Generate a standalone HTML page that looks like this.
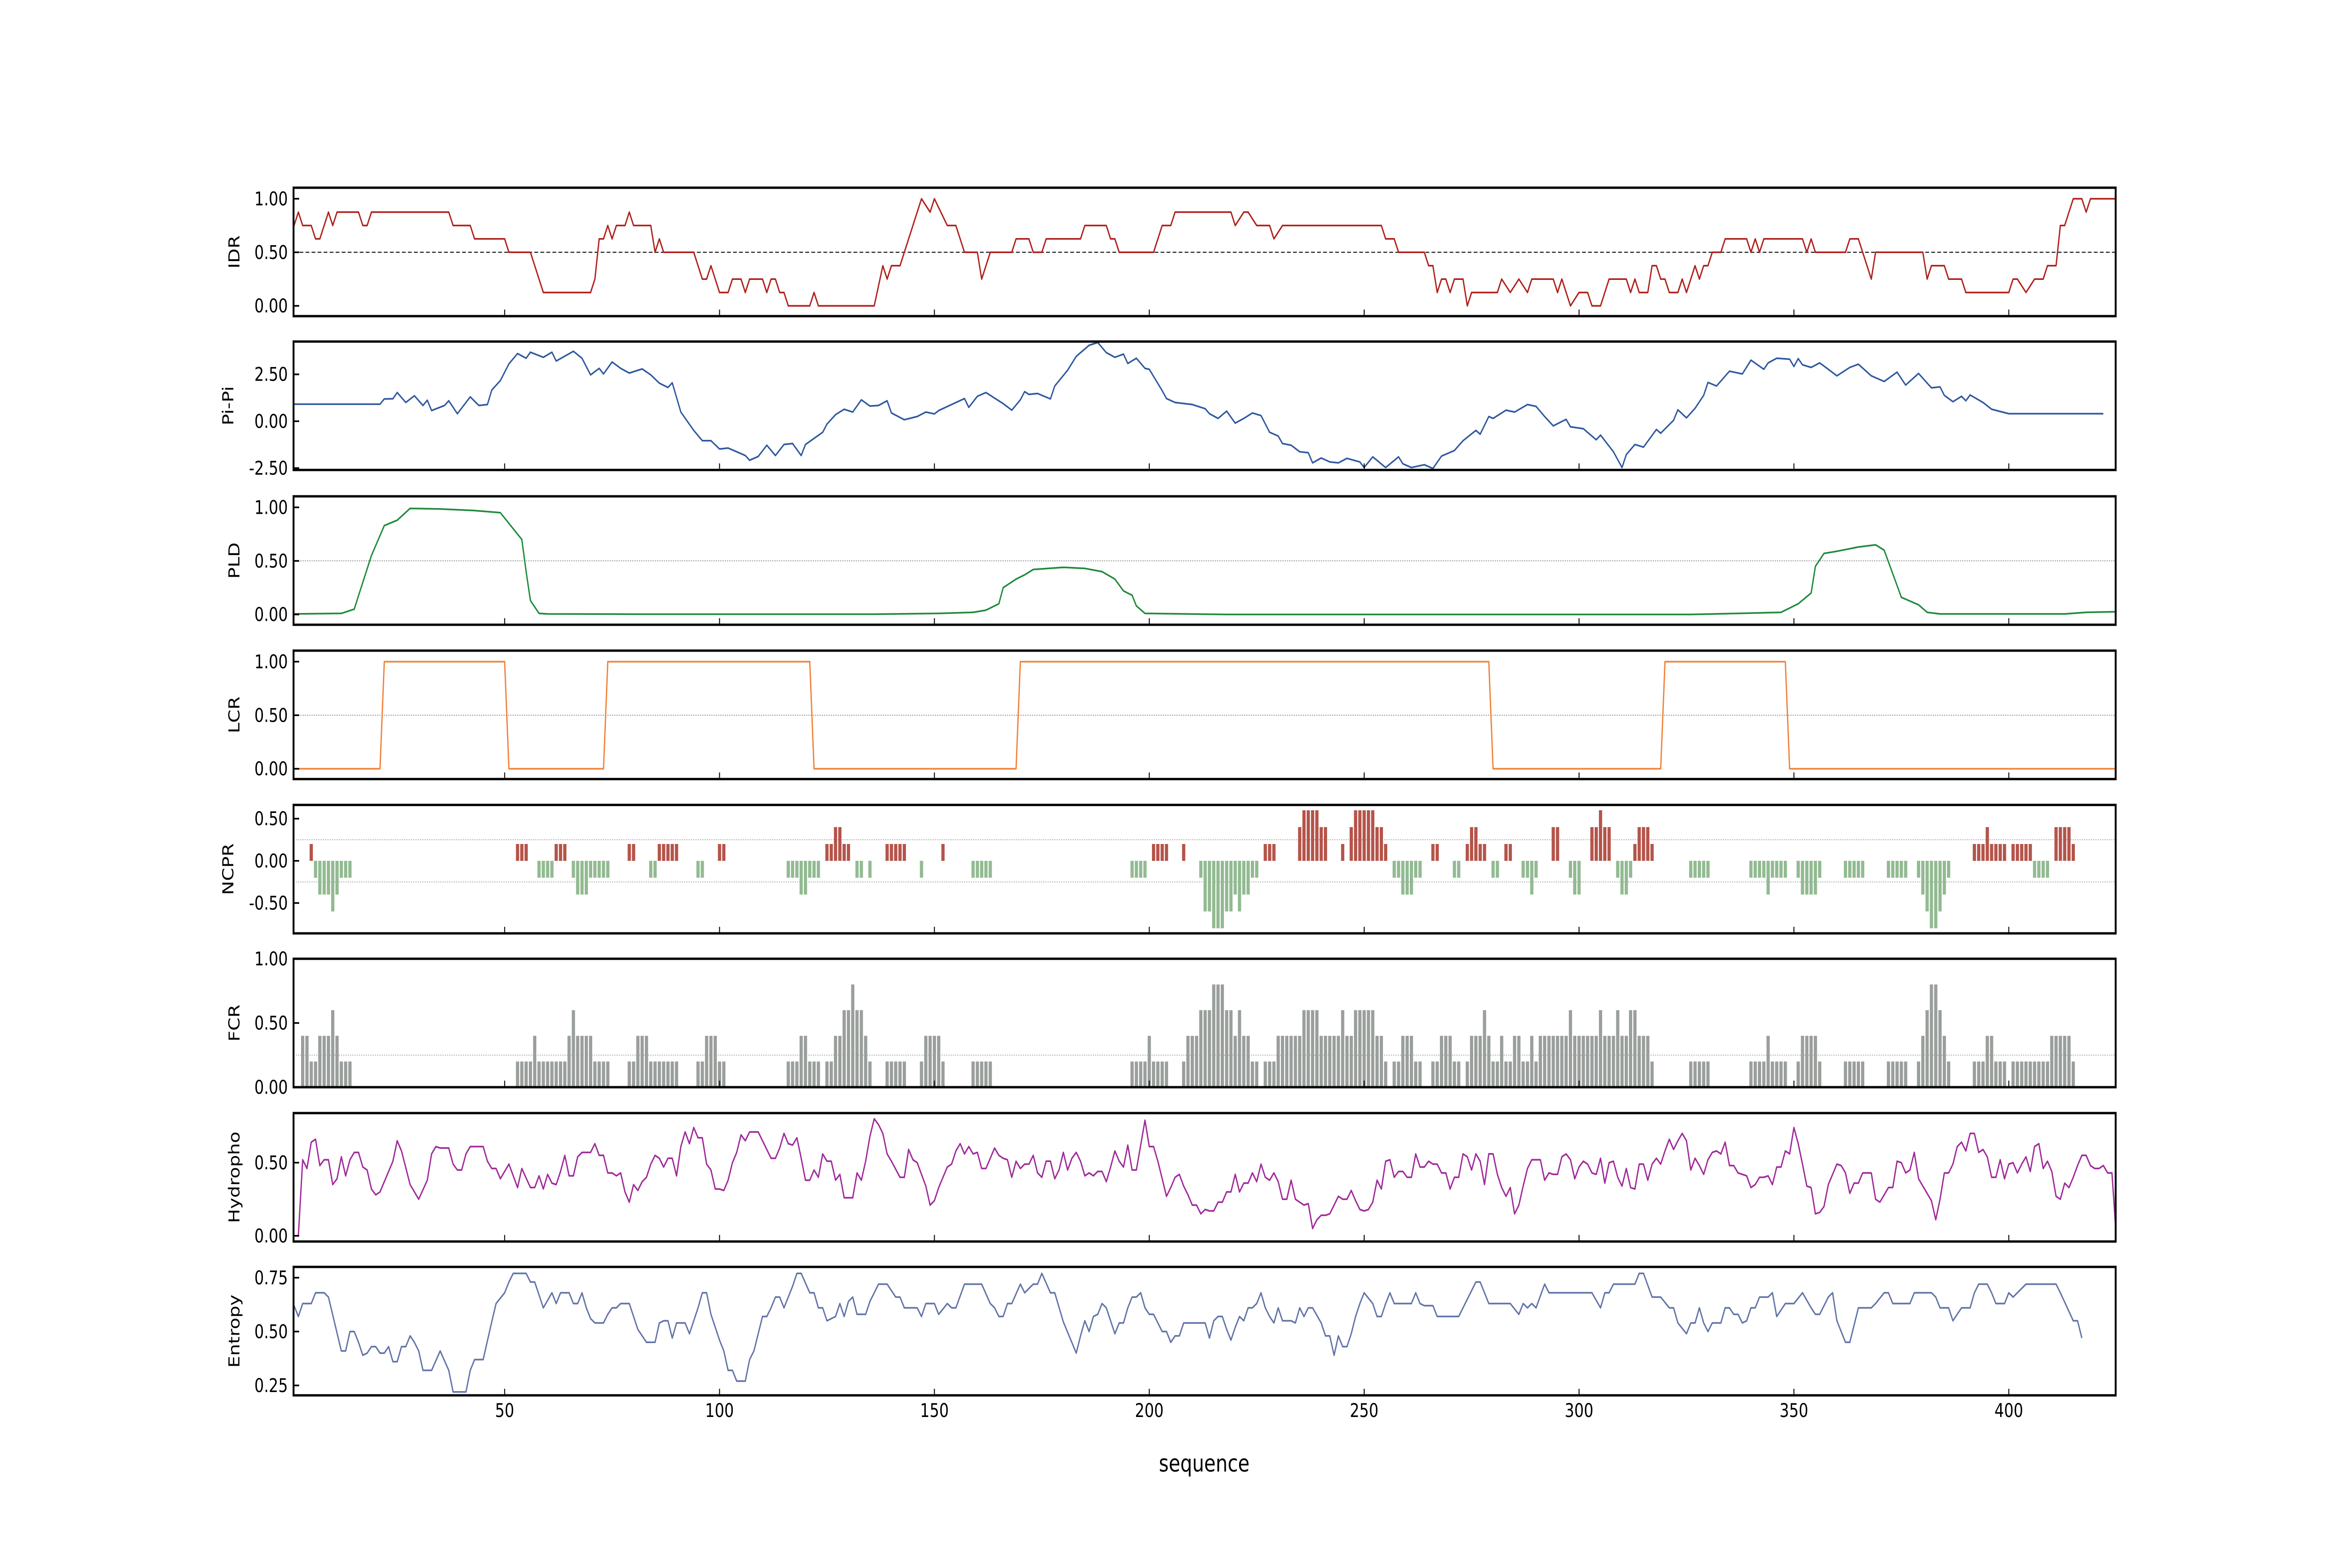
<!DOCTYPE html>
<html><head><meta charset="utf-8"><style>
html,body{margin:0;padding:0;background:#fff;width:100%;height:100%;overflow:hidden}
svg{display:block;width:100vw;height:100vh}
text{font-family:"DejaVu Sans","Liberation Sans",sans-serif;fill:#000}
</style></head><body>
<svg id="fig" xmlns="http://www.w3.org/2000/svg" viewBox="0 0 6250 3333" preserveAspectRatio="none">
<rect x="0" y="0" width="6250" height="3333" fill="#fff"/>
<text x="3200" y="3128" font-size="50" text-anchor="middle">sequence</text>
</svg>
<script>
// ---- data (residue, value) ----
const xTicks = [50,100,150,200,250,300,350,400];
const idrPts = [[1,.75],[2,.875],[3,.75],[5,.75],[6,.625],[7,.625],[9,.875],[10,.75],[11,.875],[16,.875],[17,.75],[18,.75],[19,.875],[37,.875],[38,.75],[42,.75],[43,.625],[50,.625],[51,.5],[56,.5],[59,.125],[70,.125],[71,.25],[72,.625],[73,.625],[74,.75],[75,.625],[76,.75],[78,.75],[79,.875],[80,.75],[84,.75],[85,.5],[86,.625],[87,.5],[94,.5],[96,.25],[97,.25],[98,.375],[100,.125],[102,.125],[103,.25],[105,.25],[106,.125],[107,.25],[110,.25],[111,.125],[112,.25],[113,.25],[114,.125],[115,.125],[116,0],[121,0],[122,.125],[123,0],[136,0],[138,.375],[139,.25],[140,.375],[142,.375],[147,1],[149,.875],[150,1],[153,.75],[155,.75],[157,.5],[160,.5],[161,.25],[163,.5],[168,.5],[169,.625],[172,.625],[173,.5],[175,.5],[176,.625],[184,.625],[185,.75],[190,.75],[191,.625],[192,.625],[193,.5],[201,.5],[203,.75],[205,.75],[206,.875],[219,.875],[220,.75],[222,.875],[223,.875],[225,.75],[228,.75],[229,.625],[231,.75],[254,.75],[255,.625],[257,.625],[258,.5],[264,.5],[265,.375],[266,.375],[267,.125],[268,.25],[269,.25],[270,.125],[271,.25],[273,.25],[274,0],[275,.125],[281,.125],[282,.25],[284,.125],[286,.25],[288,.125],[289,.25],[294,.25],[295,.125],[296,.25],[298,0],[300,.125],[302,.125],[303,0],[305,0],[307,.25],[311,.25],[312,.125],[313,.25],[314,.125],[316,.125],[317,.375],[318,.375],[319,.25],[320,.25],[321,.125],[323,.125],[324,.25],[325,.125],[327,.375],[328,.25],[329,.375],[330,.375],[331,.5],[333,.5],[334,.625],[339,.625],[340,.5],[341,.625],[342,.5],[343,.625],[352,.625],[353,.5],[354,.625],[355,.5],[362,.5],[363,.625],[365,.625],[368,.25],[369,.5],[380,.5],[381,.25],[382,.375],[385,.375],[386,.25],[389,.25],[390,.125],[400,.125],[401,.25],[402,.25],[404,.125],[406,.25],[408,.25],[409,.375],[411,.375],[412,.75],[413,.75],[415,1],[417,1],[418,.875],[419,1],[425,1]];
const piPts = [[1,.91],[21,.91],[22,1.19],[24,1.2],[25,1.53],[27,1.0],[29,1.36],[31,.84],[32,1.12],[33,.57],[36,.84],[37,1.09],[39,.40],[42,1.30],[44,.84],[46,.89],[47,1.66],[49,2.17],[51,3.06],[53,3.61],[55,3.36],[56,3.68],[59,3.41],[61,3.68],[62,3.21],[66,3.73],[68,3.36],[70,2.47],[72,2.82],[73,2.52],[75,3.16],[77,2.82],[79,2.57],[82,2.79],[84,2.47],[86,2.03],[88,1.80],[89,2.05],[91,.49],[94,-.49],[96,-1.04],[98,-1.04],[100,-1.48],[102,-1.43],[106,-1.83],[107,-2.08],[109,-1.88],[111,-1.28],[113,-1.83],[115,-1.24],[117,-1.19],[119,-1.83],[120,-1.24],[124,-.59],[125,-.15],[127,.35],[129,.64],[131,.49],[133,1.14],[135,.81],[137,.84],[139,1.09],[140,.44],[143,.08],[146,.25],[148,.49],[150,.39],[151,.57],[154,.89],[157,1.21],[158,.74],[160,1.33],[162,1.53],[166,.94],[168,.59],[170,1.14],[171,1.58],[172,1.43],[174,1.48],[177,1.19],[178,1.88],[181,2.72],[183,3.46],[186,4.05],[188,4.2],[190,3.66],[192,3.41],[194,3.58],[195,3.08],[197,3.36],[199,2.82],[200,2.77],[203,1.63],[204,1.21],[206,1.0],[210,.89],[213,.67],[214,.40],[216,.15],[218,.54],[220,-.10],[222,.15],[224,.44],[226,.30],[228,-.59],[230,-.79],[231,-1.19],[233,-1.28],[235,-1.63],[237,-1.68],[238,-2.22],[240,-1.96],[242,-2.17],[244,-2.22],[246,-1.98],[249,-2.17],[250,-2.47],[252,-1.90],[255,-2.47],[258,-1.90],[259,-2.27],[261,-2.47],[264,-2.32],[266,-2.52],[268,-1.86],[271,-1.56],[273,-1.04],[276,-.49],[277,-.69],[279,.25],[280,.15],[283,.59],[285,.49],[288,.89],[290,.79],[292,.25],[294,-.25],[297,.10],[298,-.30],[301,-.40],[304,-.99],[305,-.74],[308,-1.63],[310,-2.47],[311,-1.78],[313,-1.24],[315,-1.38],[318,-.44],[319,-.64],[322,.05],[323,.61],[325,.18],[327,.69],[329,1.38],[330,2.07],[332,1.88],[335,2.67],[338,2.52],[340,3.26],[343,2.77],[344,3.11],[346,3.36],[349,3.31],[350,2.92],[351,3.34],[352,3.01],[354,2.87],[356,3.11],[358,2.77],[360,2.42],[363,2.87],[365,3.04],[368,2.42],[371,2.12],[374,2.62],[376,1.93],[379,2.55],[382,1.78],[384,1.83],[385,1.38],[387,1.04],[389,1.33],[390,1.09],[391,1.40],[394,1.0],[396,.64],[400,.40],[422,.40]];
const pldPts = [[1,.005],[12,.01],[15,.05],[17,.3],[19,.55],[22,.83],[25,.88],[28,.99],[35,.985],[43,.97],[49,.95],[52,.8],[54,.7],[55,.4],[56,.13],[58,.01],[60,.005],[82,.003],[109,.003],[136,.003],[151,.01],[159,.02],[162,.04],[165,.1],[166,.25],[169,.33],[171,.37],[173,.42],[180,.44],[185,.43],[189,.4],[192,.33],[194,.22],[196,.18],[197,.08],[199,.01],[218,0],[272,0],[326,0],[337,.01],[347,.02],[351,.1],[354,.2],[355,.45],[357,.57],[360,.59],[365,.63],[369,.65],[371,.6],[373,.38],[375,.16],[379,.09],[381,.02],[384,.005],[413,.005],[418,.02],[425,.025]];
const lcrPts = [[1,0],[21,0],[22,1],[50,1],[51,0],[73,0],[74,1],[121,1],[122,0],[169,0],[170,1],[279,1],[280,0],[319,0],[320,1],[348,1],[349,0],[425,0]];
const ncprRuns = [[5,5,.2],[6,6,-.2],[7,9,-.4],[10,10,-.6],[11,11,-.4],[12,14,-.2],[53,55,.2],[58,61,-.2],[62,64,.2],[66,66,-.2],[67,69,-.4],[70,74,-.2],[79,80,.2],[84,85,-.2],[86,90,.2],[95,96,-.2],[100,101,.2],[116,118,-.2],[119,120,-.4],[121,123,-.2],[125,126,.2],[127,128,.4],[129,130,.2],[132,133,-.2],[135,135,-.2],[139,143,.2],[147,147,-.2],[152,152,.2],[159,163,-.2],[196,199,-.2],[201,204,.2],[208,208,.2],[212,212,-.2],[213,214,-.6],[215,217,-.8],[218,219,-.6],[220,220,-.4],[221,221,-.6],[222,223,-.4],[224,225,-.2],[227,229,.2],[235,235,.4],[236,239,.6],[240,241,.4],[245,245,.2],[247,247,.4],[248,252,.6],[253,254,.4],[255,255,.2],[257,258,-.2],[259,261,-.4],[262,263,-.2],[266,267,.2],[271,272,-.2],[274,274,.2],[275,276,.4],[277,278,.2],[280,281,-.2],[283,284,.2],[287,288,-.2],[289,289,-.4],[290,290,-.2],[294,295,.4],[298,298,-.2],[299,300,-.4],[303,304,.4],[305,305,.6],[306,307,.4],[309,309,-.2],[310,311,-.4],[312,312,-.2],[313,313,.2],[314,316,.4],[317,317,.2],[326,330,-.2],[340,343,-.2],[344,344,-.4],[345,348,-.2],[351,351,-.2],[352,355,-.4],[356,356,-.2],[362,366,-.2],[372,376,-.2],[379,379,-.2],[380,380,-.4],[381,381,-.6],[382,383,-.8],[384,384,-.6],[385,385,-.4],[386,386,-.2],[392,394,.2],[395,395,.4],[396,399,.2],[401,405,.2],[406,409,-.2],[411,414,.4],[415,415,.2]];
const fcrRuns = [[3,4,.4],[5,6,.2],[7,9,.4],[10,10,.6],[11,11,.4],[12,14,.2],[53,56,.2],[57,57,.4],[58,64,.2],[65,65,.4],[66,66,.6],[67,70,.4],[71,74,.2],[79,80,.2],[81,83,.4],[84,90,.2],[95,96,.2],[97,99,.4],[100,101,.2],[116,118,.2],[119,120,.4],[121,123,.2],[125,126,.2],[127,128,.4],[129,130,.6],[131,131,.8],[132,133,.6],[134,134,.4],[135,135,.2],[139,143,.2],[147,147,.2],[148,151,.4],[152,152,.2],[159,163,.2],[196,199,.2],[200,200,.4],[201,204,.2],[208,208,.2],[209,211,.4],[212,214,.6],[215,217,.8],[218,219,.6],[220,220,.4],[221,221,.6],[222,223,.4],[224,225,.2],[227,229,.2],[230,235,.4],[236,239,.6],[240,244,.4],[245,245,.6],[246,247,.4],[248,252,.6],[253,254,.4],[255,255,.2],[257,258,.2],[259,261,.4],[262,263,.2],[266,267,.2],[268,270,.4],[271,272,.2],[274,274,.2],[275,277,.4],[278,278,.6],[279,279,.4],[280,281,.2],[282,282,.4],[283,284,.2],[285,286,.4],[287,288,.2],[289,289,.4],[290,290,.2],[291,297,.4],[298,298,.6],[299,304,.4],[305,305,.6],[306,308,.4],[309,309,.6],[310,311,.4],[312,313,.6],[314,316,.4],[317,317,.2],[326,330,.2],[340,343,.2],[344,344,.4],[345,348,.2],[351,351,.2],[352,355,.4],[356,356,.2],[362,366,.2],[372,376,.2],[379,379,.2],[380,380,.4],[381,381,.6],[382,383,.8],[384,384,.6],[385,385,.4],[386,386,.2],[392,394,.2],[395,396,.4],[397,399,.2],[401,409,.2],[410,414,.4],[415,415,.2]];
const hydroPts = [[1,0],[2,0],[3,.52],[4,.46],[5,.64],[6,.66],[7,.48],[8,.52],[9,.52],[10,.35],[11,.39],[12,.54],[13,.41],[14,.52],[15,.57],[16,.57],[17,.47],[18,.45],[19,.32],[20,.28],[21,.30],[24,.51],[25,.65],[26,.58],[28,.35],[30,.25],[32,.38],[33,.56],[34,.61],[35,.60],[37,.60],[38,.49],[39,.45],[40,.45],[41,.56],[42,.61],[45,.61],[46,.51],[47,.46],[48,.46],[49,.39],[51,.49],[53,.33],[54,.46],[56,.33],[57,.33],[58,.41],[59,.32],[60,.42],[61,.36],[62,.35],[63,.44],[64,.55],[65,.41],[66,.41],[67,.54],[68,.57],[70,.57],[71,.63],[72,.55],[73,.55],[74,.43],[75,.43],[76,.41],[77,.43],[78,.30],[79,.23],[80,.35],[81,.31],[82,.37],[83,.40],[84,.49],[85,.55],[86,.53],[87,.47],[88,.53],[89,.53],[90,.41],[91,.61],[92,.71],[93,.63],[94,.74],[95,.67],[96,.67],[97,.49],[98,.45],[99,.32],[100,.32],[101,.31],[102,.38],[103,.50],[104,.57],[105,.69],[106,.65],[107,.71],[109,.71],[110,.65],[111,.59],[112,.53],[113,.53],[114,.60],[115,.70],[116,.63],[117,.62],[118,.67],[119,.53],[120,.38],[121,.38],[122,.45],[123,.40],[124,.56],[125,.51],[126,.51],[127,.38],[128,.42],[129,.26],[131,.26],[132,.43],[133,.38],[134,.51],[135,.68],[136,.80],[137,.76],[138,.70],[139,.56],[140,.51],[142,.40],[143,.40],[144,.59],[145,.52],[146,.50],[147,.42],[148,.34],[149,.21],[150,.24],[151,.33],[152,.40],[153,.47],[154,.49],[155,.58],[156,.63],[157,.56],[158,.61],[159,.56],[160,.57],[161,.46],[162,.46],[163,.53],[164,.60],[165,.55],[166,.53],[167,.52],[168,.40],[169,.51],[170,.46],[171,.49],[172,.49],[173,.55],[174,.43],[175,.40],[176,.51],[177,.51],[178,.39],[179,.45],[180,.57],[181,.45],[182,.53],[183,.57],[184,.51],[185,.41],[186,.43],[187,.41],[188,.44],[189,.44],[190,.37],[191,.47],[192,.58],[193,.51],[194,.47],[195,.62],[196,.45],[197,.45],[198,.62],[199,.79],[200,.61],[201,.61],[202,.51],[203,.39],[204,.27],[205,.33],[206,.40],[207,.42],[208,.34],[209,.28],[210,.21],[211,.21],[212,.15],[213,.18],[214,.17],[215,.17],[216,.23],[217,.23],[218,.30],[219,.30],[220,.42],[221,.30],[222,.36],[223,.36],[224,.43],[225,.37],[226,.49],[227,.40],[228,.38],[229,.43],[230,.37],[231,.25],[232,.25],[233,.38],[234,.25],[235,.23],[236,.21],[237,.22],[238,.05],[239,.11],[240,.14],[241,.14],[242,.15],[243,.21],[244,.27],[245,.25],[246,.25],[247,.31],[248,.24],[249,.18],[250,.17],[251,.18],[252,.23],[253,.38],[254,.32],[255,.51],[256,.52],[257,.40],[258,.44],[259,.44],[260,.40],[261,.40],[262,.56],[263,.47],[264,.47],[265,.51],[266,.49],[267,.49],[268,.43],[269,.43],[270,.32],[271,.40],[272,.40],[273,.56],[274,.54],[275,.45],[276,.56],[277,.51],[278,.35],[279,.56],[280,.56],[281,.42],[282,.33],[283,.27],[284,.33],[285,.15],[286,.21],[287,.34],[288,.46],[289,.52],[290,.52],[291,.52],[292,.38],[293,.43],[294,.42],[295,.42],[296,.54],[297,.56],[298,.52],[299,.39],[300,.47],[301,.51],[302,.49],[303,.43],[304,.42],[305,.53],[306,.36],[307,.50],[308,.51],[309,.40],[310,.34],[311,.46],[312,.33],[313,.32],[314,.49],[315,.49],[316,.38],[317,.49],[318,.53],[319,.49],[320,.58],[321,.66],[322,.59],[323,.65],[324,.70],[325,.65],[326,.45],[327,.53],[328,.48],[329,.42],[330,.52],[331,.57],[332,.58],[333,.56],[334,.64],[335,.48],[336,.48],[337,.43],[338,.42],[339,.41],[340,.33],[341,.35],[342,.40],[343,.40],[344,.41],[345,.35],[346,.47],[347,.47],[348,.58],[349,.56],[350,.74],[351,.63],[352,.49],[353,.34],[354,.33],[355,.15],[356,.16],[357,.20],[358,.35],[359,.42],[360,.49],[361,.48],[362,.43],[363,.29],[364,.36],[365,.36],[366,.43],[367,.43],[368,.43],[369,.25],[370,.23],[371,.28],[372,.33],[373,.33],[374,.51],[375,.50],[376,.43],[377,.45],[378,.57],[379,.39],[380,.34],[381,.29],[382,.24],[383,.11],[384,.25],[385,.43],[386,.43],[387,.49],[388,.61],[389,.64],[390,.58],[391,.70],[392,.70],[393,.57],[394,.59],[395,.54],[396,.40],[397,.40],[398,.52],[399,.39],[400,.49],[401,.50],[402,.43],[403,.49],[404,.54],[405,.44],[406,.61],[407,.63],[408,.46],[409,.51],[410,.44],[411,.27],[412,.25],[413,.36],[414,.33],[415,.40],[416,.48],[417,.55],[418,.55],[419,.48],[420,.46],[421,.46],[422,.48],[423,.43],[424,.43],[425,0]];
const entropyPts = [[1,.62],[2,.57],[3,.63],[5,.63],[6,.68],[8,.68],[9,.66],[12,.41],[13,.41],[14,.50],[15,.50],[16,.45],[17,.39],[18,.40],[19,.43],[20,.43],[21,.40],[22,.40],[23,.43],[24,.36],[25,.36],[26,.43],[27,.43],[28,.48],[29,.45],[30,.41],[31,.32],[33,.32],[35,.41],[37,.32],[38,.22],[41,.22],[42,.32],[43,.37],[45,.37],[47,.545],[48,.63],[50,.68],[51,.73],[52,.77],[55,.77],[56,.73],[57,.73],[58,.67],[59,.61],[61,.68],[62,.63],[63,.68],[65,.68],[66,.63],[67,.63],[68,.68],[69,.61],[70,.56],[71,.54],[73,.54],[74,.58],[75,.61],[76,.61],[77,.63],[79,.63],[81,.51],[83,.45],[85,.45],[86,.54],[87,.55],[88,.55],[89,.47],[90,.54],[92,.54],[93,.49],[95,.61],[96,.68],[97,.68],[98,.58],[100,.46],[101,.41],[102,.32],[103,.32],[104,.27],[106,.27],[107,.37],[108,.41],[110,.57],[111,.57],[112,.61],[113,.66],[114,.66],[115,.61],[117,.71],[118,.77],[119,.77],[121,.68],[122,.68],[123,.61],[124,.61],[125,.55],[127,.57],[128,.63],[129,.57],[130,.64],[131,.66],[132,.58],[134,.58],[135,.64],[136,.68],[137,.72],[139,.72],[141,.66],[142,.66],[143,.61],[146,.61],[147,.57],[148,.63],[150,.63],[151,.58],[153,.63],[154,.61],[155,.61],[157,.72],[161,.72],[163,.63],[164,.61],[165,.57],[166,.57],[167,.63],[168,.63],[170,.72],[171,.68],[173,.72],[174,.72],[175,.77],[177,.68],[178,.68],[180,.545],[183,.40],[184,.48],[185,.55],[186,.50],[187,.57],[188,.58],[189,.63],[190,.61],[192,.49],[193,.54],[194,.54],[195,.61],[196,.66],[197,.66],[198,.68],[199,.61],[200,.58],[201,.58],[202,.54],[203,.50],[204,.50],[205,.45],[206,.48],[207,.48],[208,.54],[212,.54],[213,.54],[214,.47],[215,.55],[216,.57],[217,.57],[218,.51],[219,.46],[220,.52],[221,.57],[222,.55],[223,.61],[224,.61],[225,.63],[226,.68],[227,.61],[228,.57],[229,.54],[230,.61],[231,.55],[233,.55],[234,.54],[235,.61],[236,.57],[237,.61],[238,.61],[240,.54],[241,.48],[242,.48],[243,.39],[244,.48],[245,.43],[246,.43],[247,.49],[248,.57],[249,.63],[250,.68],[252,.63],[253,.57],[254,.57],[255,.63],[256,.68],[257,.63],[261,.63],[262,.68],[263,.63],[264,.62],[266,.62],[267,.57],[272,.57],[273,.61],[276,.73],[277,.73],[279,.63],[284,.63],[286,.58],[287,.63],[288,.61],[289,.63],[290,.61],[292,.72],[293,.68],[303,.68],[305,.61],[306,.68],[307,.68],[308,.72],[313,.72],[314,.77],[315,.77],[317,.66],[319,.66],[321,.61],[322,.61],[323,.54],[325,.49],[326,.54],[327,.54],[328,.61],[329,.54],[330,.50],[331,.54],[333,.54],[334,.61],[335,.61],[336,.58],[337,.58],[338,.54],[339,.55],[340,.61],[341,.61],[342,.66],[344,.66],[345,.68],[346,.57],[348,.63],[350,.63],[352,.68],[354,.61],[355,.58],[356,.58],[358,.66],[359,.68],[360,.55],[362,.45],[363,.45],[365,.61],[368,.61],[369,.63],[371,.68],[372,.68],[373,.63],[377,.63],[378,.68],[382,.68],[383,.66],[384,.61],[386,.61],[387,.55],[389,.61],[391,.61],[392,.68],[393,.72],[395,.72],[396,.68],[397,.63],[399,.63],[400,.68],[401,.66],[402,.68],[404,.72],[411,.72],[412,.68],[415,.55],[416,.55],[417,.47]];

// ---- layout ----
const svg = document.getElementById('fig');
const NS = 'http://www.w3.org/2000/svg';
const LEFT = 780, RIGHT = 5622, PH = 273;
function xs(r){ return 1341 + (r - 50) * 11.42; }
function mk(tag, attrs, parent){
  const e = document.createElementNS(NS, tag);
  for (const k in attrs) e.setAttribute(k, attrs[k]);
  (parent || svg).appendChild(e);
  return e;
}
const panels = [
  {key:'idr', label:'IDR', top:399, ylim:[-0.096,1.103], ticks:[0,0.5,1], lx:636, ref:[[0.5,'#000','10,6',2]]},
  {key:'pipi', label:'Pi-Pi', top:726, ylim:[-2.6,4.25], ticks:[-2.5,0,2.5], lx:620, ref:[]},
  {key:'pld', label:'PLD', top:1055, ylim:[-0.096,1.103], ticks:[0,0.5,1], lx:636, ref:[[0.5,'#777','3,3',1.5]]},
  {key:'lcr', label:'LCR', top:1383, ylim:[-0.096,1.103], ticks:[0,0.5,1], lx:636, ref:[[0.5,'#777','3,3',1.5]]},
  {key:'ncpr', label:'NCPR', top:1711, ylim:[-0.86,0.663], ticks:[-0.5,0,0.5], lx:620, ref:[[0.25,'#999','3,3',1.5],[-0.25,'#999','3,3',1.5]]},
  {key:'fcr', label:'FCR', top:2038, ylim:[0,1.0], ticks:[0,0.5,1], lx:636, ref:[[0.25,'#999','3,3',1.5]]},
  {key:'hydro', label:'Hydropho', top:2366, ylim:[-0.039,0.839], ticks:[0,0.5], lx:636, ref:[]},
  {key:'entropy', label:'Entropy', top:2693, ylim:[0.204,0.80], ticks:[0.25,0.5,0.75], lx:636, ref:[]}
];
function yScale(p){ return v => p.top + PH - (v - p.ylim[0]) / (p.ylim[1] - p.ylim[0]) * PH; }

function drawLine(g, pts, ys, color, name){
  let d = '';
  pts.forEach((pt, i) => { d += (i ? 'L' : 'M') + xs(pt[0]).toFixed(1) + ',' + ys(pt[1]).toFixed(1); });
  const path = mk('path', {d:d, fill:'none', stroke:color, 'stroke-width':3.5, 'stroke-linejoin':'round'}, g);
  
  
}
function drawBars(g, runs, ys, colorFn, name){
  const w = 8.6;
  runs.forEach(run => {
    for (let r = run[0]; r <= run[1]; r++) {
      const v = run[2];
      const y0 = ys(0), y1 = ys(v);
      const rect = mk('rect', {x:(xs(r) - w/2).toFixed(1), y:Math.min(y0,y1).toFixed(1), width:w, height:Math.abs(y1-y0).toFixed(1), fill:colorFn(v)}, g);
      
      
    }
  });
}

panels.forEach((p, idx) => {
  const ys = yScale(p);
  const g = mk('g', {});
  
  
  const clipId = 'clip-' + p.key;
  const cp = mk('clipPath', {id:clipId}, g);
  mk('rect', {x:LEFT, y:p.top, width:RIGHT-LEFT, height:PH}, cp);
  const plot = mk('g', {'clip-path':'url(#' + clipId + ')'}, g);
  
  
  p.ref.forEach(rf => {
    const ln = mk('line', {x1:LEFT, x2:RIGHT, y1:ys(rf[0]), y2:ys(rf[0]), stroke:rf[1], 'stroke-dasharray':rf[2], 'stroke-width':rf[3]}, plot);
    
    
  });
  if (p.key === 'idr') drawLine(plot, idrPts, ys, '#b0211c', 'idr-line');
  if (p.key === 'pipi') drawLine(plot, piPts, ys, '#2f58a0', 'pipi-line');
  if (p.key === 'pld') drawLine(plot, pldPts, ys, '#1c8a3a', 'pld-line');
  if (p.key === 'lcr') drawLine(plot, lcrPts, ys, '#f0833a', 'lcr-line');
  if (p.key === 'ncpr') drawBars(plot, ncprRuns, ys, v => v > 0 ? '#b5544a' : '#92ba92', 'ncpr-bar');
  if (p.key === 'fcr') drawBars(plot, fcrRuns, ys, v => '#9a9f9c', 'fcr-bar');
  if (p.key === 'hydro') drawLine(plot, hydroPts, ys, '#a0299a', 'hydropho-line');
  if (p.key === 'entropy') drawLine(plot, entropyPts, ys, '#6173a8', 'entropy-line');
  xTicks.forEach(t => {
    const tk = mk('line', {x1:xs(t), x2:xs(t), y1:p.top+PH, y2:p.top+PH-14, stroke:'#000', 'stroke-width':2.5}, g);
    
    
    if (idx === panels.length - 1) {
      const tl = mk('text', {x:xs(t), y:p.top+PH+46, 'font-size':40, 'text-anchor':'middle'}, g);
      tl.textContent = String(t);
      
      
    }
  });
  p.ticks.forEach(t => {
    const yy = ys(t);
    const tk = mk('line', {x1:LEFT, x2:LEFT+15, y1:yy, y2:yy, stroke:'#000', 'stroke-width':3.5}, g);
    
    
    const tl = mk('text', {x:765, y:yy+14, 'font-size':40, 'text-anchor':'end'}, g);
    tl.textContent = t.toFixed(2);
    
    
  });
  const fr = mk('rect', {x:LEFT, y:p.top, width:RIGHT-LEFT, height:PH, fill:'none', stroke:'#000', 'stroke-width':5}, g);
  
  
  const cy = p.top + PH/2;
  const yl = mk('text', {x:p.lx, y:cy, 'font-size':40, 'text-anchor':'middle', transform:'rotate(-90 ' + p.lx + ' ' + cy + ')'}, g);
  yl.textContent = p.label;
  
  
});
</script>
</body></html>
